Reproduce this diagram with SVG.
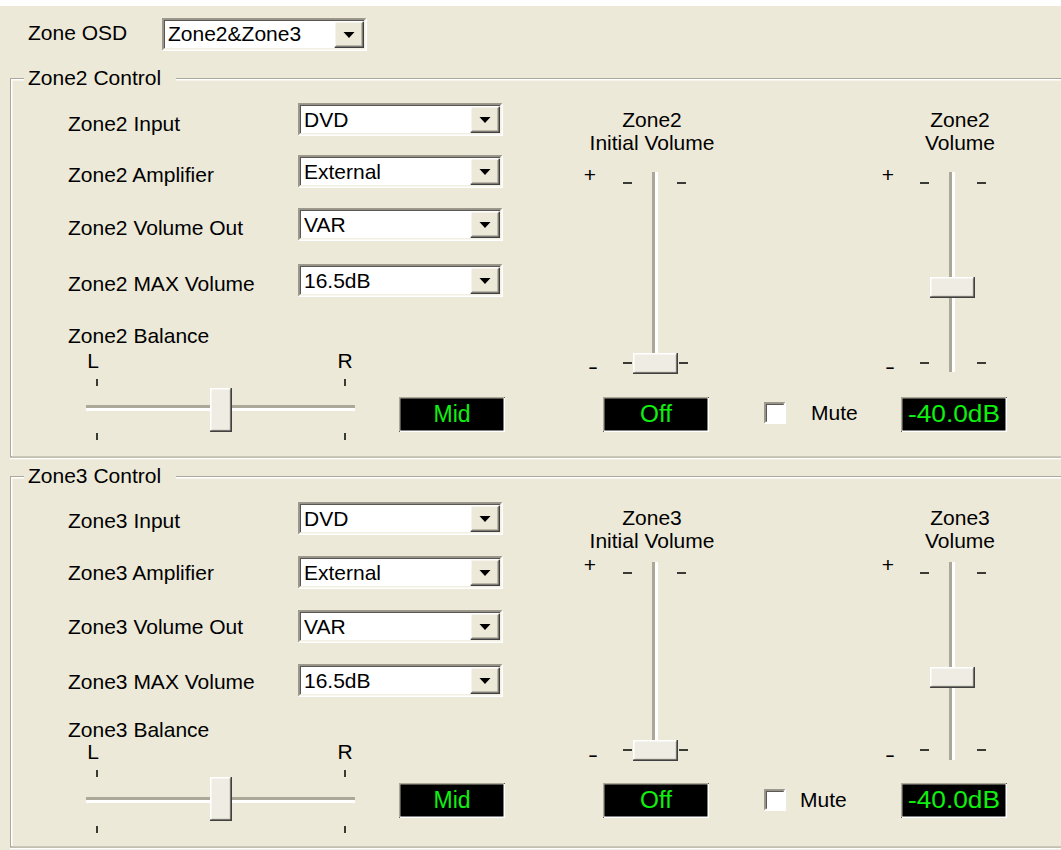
<svg xmlns="http://www.w3.org/2000/svg" xmlns:xlink="http://www.w3.org/1999/xlink" width="1061" height="850" viewBox="0 0 1061 850">
<style>
.t{font-family:"Liberation Sans",Arial,sans-serif;font-size:21px;fill:#000}
.c{text-anchor:middle}
.g{font-family:"Liberation Sans",Arial,sans-serif;font-size:23px;fill:#10F010;text-anchor:middle}
.hl{stroke:#fff;stroke-width:1.5;fill:none}
.sh{stroke:#ACA899;stroke-width:1.5;fill:none}
.dk{stroke:#5A5850;stroke-width:1.5;fill:none}
.tk{stroke:#000;stroke-width:1.5}
</style>
<defs>
<g id="combo">
<rect x="0" y="0" width="205" height="33" fill="#fff"/>
<path stroke="#9D9A8C" stroke-width="1.5" fill="none" d="M0.75,32.25V0.75H204.25"/>
<path class="hl" d="M0.75,32.25H204.25V0.75"/>
<path class="dk" d="M2.25,30.75V2.25H202.75"/>
<path stroke="#F1EFE2" stroke-width="1.5" fill="none" d="M2.25,30.75H202.75V2.25"/>
<rect x="172" y="3" width="30" height="27" fill="#ECE9D8"/>
<path class="hl" d="M172.75,29.25V3.75H201.25"/>
<path stroke="#ACA899" stroke-width="1.5" fill="none" d="M174,28H200V5"/>
<path stroke="#404040" stroke-width="1.5" fill="none" d="M172.75,29.25H201.25V3.75"/>
<polygon points="181.5,14 192.5,14 187,20" fill="#000"/>
</g>
<g id="disp">
<rect x="0" y="0" width="106" height="35" fill="#000"/>
<path class="sh" d="M0.75,34.25V0.75H105.25"/>
<path class="hl" d="M0.75,34.25H105.25V0.75"/>
</g>
<g id="hthumb">
<rect x="0" y="0" width="22" height="44" fill="#EFEDE3"/>
<path class="hl" d="M0.75,43V0.75H21"/>
<path stroke="#ACA899" stroke-width="1.5" fill="none" d="M1.5,42.5H20.5V1.5"/>
<path stroke="#404040" stroke-width="1.5" fill="none" d="M0,43.25H21.25V0"/>
</g>
<g id="vthumb">
<rect x="0" y="0" width="45" height="21" fill="#EFEDE3"/>
<path class="hl" d="M0.75,20V0.75H44"/>
<path stroke="#ACA899" stroke-width="1.5" fill="none" d="M1.5,19.5H43.5V1.5"/>
<path stroke="#404040" stroke-width="1.5" fill="none" d="M0,20.25H44.25V0"/>
</g>
<g id="chk">
<rect x="0" y="0" width="22" height="22" fill="#fff"/>
<path stroke="#9D9A8C" stroke-width="1.5" fill="none" d="M0.75,21.25V0.75H21.25"/>
<path class="dk" d="M2.25,19.75V2.25H19.75"/>
<path class="hl" d="M0.75,21.25H21.25V0.75"/>
</g>
</defs>
<rect x="0" y="0" width="1061" height="850" fill="#ECE9D8"/>
<rect x="0" y="0" width="1061" height="6" fill="#fff"/>

<g id="zone-osd">
<text class="t" x="28" y="40">Zone OSD</text>
<use href="#combo" x="162" y="18"/>
<text class="t" x="168" y="41">Zone2&amp;Zone3</text>
</g>

<g id="zone2-group">
<path class="sh" d="M10.75,457V78.75H1062"/>
<path class="hl" d="M11.75,456V79.75H1062"/>
<path class="sh" d="M10,457.25H1062"/>
<path class="hl" d="M10,458.5H1062"/>
<rect x="24" y="68" width="152" height="20" fill="#ECE9D8"/>
<text class="t" x="28" y="85">Zone2 Control</text>
</g>

<g id="zone2-input"><text class="t" x="68" y="131">Zone2 Input</text><use href="#combo" x="298" y="103"/><text class="t" x="304" y="127">DVD</text></g>
<g id="zone2-amp"><text class="t" x="68" y="182">Zone2 Amplifier</text><use href="#combo" x="298" y="155"/><text class="t" x="304" y="179">External</text></g>
<g id="zone2-volout"><text class="t" x="68" y="235">Zone2 Volume Out</text><use href="#combo" x="298" y="208"/><text class="t" x="304" y="232">VAR</text></g>
<g id="zone2-max"><text class="t" x="68" y="291">Zone2 MAX Volume</text><use href="#combo" x="298" y="264"/><text class="t" x="304" y="288">16.5dB</text></g>

<g id="zone2-balance">
<text class="t" x="68" y="343">Zone2 Balance</text>
<text class="t c" x="93" y="368">L</text>
<text class="t c" x="345" y="368">R</text>
<line class="tk" x1="97" y1="379" x2="97" y2="386"/>
<line class="tk" x1="345" y1="379" x2="345" y2="386"/>
<line class="tk" x1="97" y1="433" x2="97" y2="440"/>
<line class="tk" x1="345" y1="433" x2="345" y2="440"/>
<rect x="86" y="405" width="269" height="3" fill="#ACA899"/>
<rect x="86" y="408" width="269" height="3" fill="#fff"/>
<use href="#hthumb" x="210" y="388"/>
</g>
<g id="zone2-mid"><use href="#disp" x="399" y="397"/><text class="g" x="452" y="422" textLength="37" lengthAdjust="spacingAndGlyphs">Mid</text></g>

<g id="zone2-initvol">
<text class="t c" x="652" y="127">Zone2</text>
<text class="t c" x="652" y="150">Initial Volume</text>
<text class="t c" x="590" y="182">+</text>
<line class="tk" x1="623" y1="183" x2="632" y2="183"/>
<line class="tk" x1="677" y1="183" x2="686" y2="183"/>
<rect x="652" y="172" width="3" height="182" fill="#ACA899"/>
<rect x="655" y="172" width="3" height="182" fill="#fff"/>
<text class="t c" x="593" y="374" textLength="10" lengthAdjust="spacingAndGlyphs">-</text>
<line class="tk" x1="623" y1="363" x2="632" y2="363"/>
<line class="tk" x1="679" y1="363" x2="688" y2="363"/>
<use href="#vthumb" x="633" y="353"/>
</g>
<g id="zone2-off"><use href="#disp" x="603" y="397"/><text class="g" x="656" y="422" textLength="32" lengthAdjust="spacingAndGlyphs">Off</text></g>

<g id="zone2-vol">
<text class="t c" x="960" y="127">Zone2</text>
<text class="t c" x="960" y="150">Volume</text>
<text class="t c" x="888" y="182">+</text>
<line class="tk" x1="920" y1="183" x2="929" y2="183"/>
<line class="tk" x1="977" y1="183" x2="986" y2="183"/>
<rect x="949" y="172" width="3" height="200" fill="#ACA899"/>
<rect x="952" y="172" width="3" height="200" fill="#fff"/>
<text class="t c" x="890" y="374" textLength="10" lengthAdjust="spacingAndGlyphs">-</text>
<line class="tk" x1="920" y1="363" x2="929" y2="363"/>
<line class="tk" x1="977" y1="363" x2="986" y2="363"/>
<use href="#vthumb" x="930" y="277"/>
</g>
<g id="zone2-mute"><use href="#chk" x="764" y="402"/><text class="t" x="811" y="420">Mute</text></g>
<g id="zone2-db"><use href="#disp" x="901" y="397"/><text class="g" x="954" y="422" textLength="92" lengthAdjust="spacingAndGlyphs">-40.0dB</text></g>

<g id="zone3-group">
<path class="sh" d="M10.75,847V476.75H1062"/>
<path class="hl" d="M11.75,846V477.75H1062"/>
<path class="sh" d="M10,847.25H1062"/>
<path class="hl" d="M10,848.5H1062"/>
<rect x="24" y="466" width="152" height="20" fill="#ECE9D8"/>
<text class="t" x="28" y="483">Zone3 Control</text>
</g>

<g id="zone3-input"><text class="t" x="68" y="528">Zone3 Input</text><use href="#combo" x="298" y="502"/><text class="t" x="304" y="526">DVD</text></g>
<g id="zone3-amp"><text class="t" x="68" y="580">Zone3 Amplifier</text><use href="#combo" x="298" y="556"/><text class="t" x="304" y="580">External</text></g>
<g id="zone3-volout"><text class="t" x="68" y="634">Zone3 Volume Out</text><use href="#combo" x="298" y="610"/><text class="t" x="304" y="634">VAR</text></g>
<g id="zone3-max"><text class="t" x="68" y="689">Zone3 MAX Volume</text><use href="#combo" x="298" y="664"/><text class="t" x="304" y="688">16.5dB</text></g>

<g id="zone3-balance">
<text class="t" x="68" y="737">Zone3 Balance</text>
<text class="t c" x="93" y="759">L</text>
<text class="t c" x="345" y="759">R</text>
<line class="tk" x1="97" y1="770" x2="97" y2="777"/>
<line class="tk" x1="345" y1="770" x2="345" y2="777"/>
<line class="tk" x1="97" y1="826" x2="97" y2="833"/>
<line class="tk" x1="345" y1="826" x2="345" y2="833"/>
<rect x="86" y="797" width="269" height="3" fill="#ACA899"/>
<rect x="86" y="800" width="269" height="3" fill="#fff"/>
<use href="#hthumb" x="210" y="777"/>
</g>
<g id="zone3-mid"><use href="#disp" x="399" y="783"/><text class="g" x="452" y="808" textLength="37" lengthAdjust="spacingAndGlyphs">Mid</text></g>

<g id="zone3-initvol">
<text class="t c" x="652" y="525">Zone3</text>
<text class="t c" x="652" y="548">Initial Volume</text>
<text class="t c" x="590" y="572">+</text>
<line class="tk" x1="623" y1="573" x2="632" y2="573"/>
<line class="tk" x1="677" y1="573" x2="686" y2="573"/>
<rect x="652" y="562" width="3" height="180" fill="#ACA899"/>
<rect x="655" y="562" width="3" height="180" fill="#fff"/>
<text class="t c" x="593" y="762" textLength="10" lengthAdjust="spacingAndGlyphs">-</text>
<line class="tk" x1="623" y1="750" x2="632" y2="750"/>
<line class="tk" x1="679" y1="750" x2="688" y2="750"/>
<use href="#vthumb" x="633" y="740"/>
</g>
<g id="zone3-off"><use href="#disp" x="603" y="783"/><text class="g" x="656" y="808" textLength="32" lengthAdjust="spacingAndGlyphs">Off</text></g>

<g id="zone3-vol">
<text class="t c" x="960" y="525">Zone3</text>
<text class="t c" x="960" y="548">Volume</text>
<text class="t c" x="888" y="572">+</text>
<line class="tk" x1="920" y1="573" x2="929" y2="573"/>
<line class="tk" x1="977" y1="573" x2="986" y2="573"/>
<rect x="949" y="562" width="3" height="198" fill="#ACA899"/>
<rect x="952" y="562" width="3" height="198" fill="#fff"/>
<text class="t c" x="890" y="762" textLength="10" lengthAdjust="spacingAndGlyphs">-</text>
<line class="tk" x1="920" y1="750" x2="929" y2="750"/>
<line class="tk" x1="977" y1="750" x2="986" y2="750"/>
<use href="#vthumb" x="930" y="667"/>
</g>
<g id="zone3-mute"><use href="#chk" x="764" y="789"/><text class="t" x="800" y="807">Mute</text></g>
<g id="zone3-db"><use href="#disp" x="901" y="783"/><text class="g" x="954" y="808" textLength="92" lengthAdjust="spacingAndGlyphs">-40.0dB</text></g>
</svg>
